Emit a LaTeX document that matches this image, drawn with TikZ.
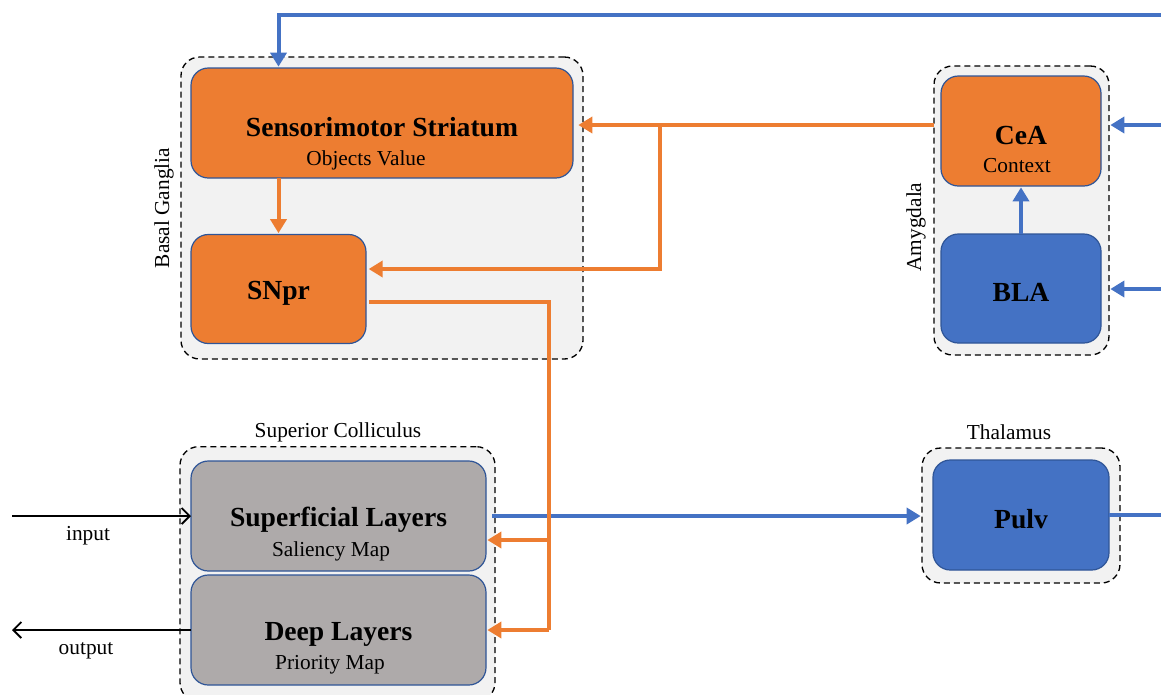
\documentclass[tikz,border=0pt]{standalone}
\usepackage{fontspec}
\setmainfont{Liberation Serif}
\usetikzlibrary{arrows.meta,calc}
\definecolor{orng}{HTML}{ED7D31}
\definecolor{blu}{HTML}{4472C4}
\definecolor{gry}{HTML}{AEAAAA}
\definecolor{edge}{HTML}{2F5597}
\definecolor{pale}{HTML}{F2F2F2}
% unit titles sit a little below the box centre
\newcommand{\unittitle}[1]{\raisebox{-3pt}[\height][\depth]{#1}}
\tikzset{
  region/.style={draw=black, fill=pale, dash pattern=on 4.5pt off 3pt, line width=1pt,
    rounded corners=14pt, inner sep=0pt, outer sep=0pt},
  unit/.style={draw=edge, line width=0.9pt, rounded corners=13pt, inner sep=0pt, outer sep=0pt,
    font=\fontsize{20.7}{24}\selectfont\bfseries},
  sub/.style={inner sep=0pt, font=\fontsize{16}{19}\selectfont},
  caption/.style={inner sep=0pt, font=\fontsize{16}{19}\selectfont},
  oline/.style={draw=orng, line width=3pt},
  bline/.style={draw=blu, line width=3pt},
  otip/.style={oline, -{Triangle[length=10.5pt,width=12pt]}},
  btip/.style={bline, -{Triangle[length=10.5pt,width=12pt]}},
  kline/.style={draw=black, line width=1.4pt, -{Straight Barb[length=6pt,width=12pt]}}
}
\begin{document}
\begin{tikzpicture}[x=0.75pt,y=-0.75pt]
\useasboundingbox (0,0) rectangle (1161,694);

% regions
\node[region, minimum width=301.5pt, minimum height=226.5pt] (bg) at (382,208) {};
\node[region, minimum width=131.25pt, minimum height=216.75pt] (amy) at (1021.5,210.5) {};
\node[region, minimum width=236.25pt, minimum height=191pt] (sc) at (337.5,574) {};
\node[region, minimum width=148.5pt, minimum height=101.25pt] (thal) at (1021,515.5) {};

\node[caption, rotate=90] (bglab) at (164,208) {Basal Ganglia};
\node[caption, rotate=90] (amylab) at (916,227) {Amygdala};
\node[caption] (sclab) at (338,432) {Superior Colliculus};
\node[caption] (thallab) at (1009,432) {Thalamus};

% units
\node[unit, fill=orng, minimum width=286.5pt, minimum height=82.5pt] (str) at (382,123) {\unittitle{Sensorimotor Striatum}};
\node[sub] (strsub) at (366,160) {Objects Value};
\node[unit, fill=orng, minimum width=131.25pt, minimum height=81.75pt] (snpr) at (278.5,289) {\unittitle{SNpr}};
\node[unit, fill=orng, minimum width=120pt, minimum height=82.5pt] (cea) at (1021,131) {\unittitle{CeA}};
\node[sub] (ceasub) at (1017,166) {Context};
\node[unit, fill=blu, minimum width=120pt, minimum height=81.75pt] (bla) at (1021,288.5) {\unittitle{BLA}};
\node[unit, fill=gry, minimum width=221.25pt, minimum height=82.5pt] (sup) at (338.5,516) {\unittitle{Superficial Layers}};
\node[sub] (supsub) at (331,551) {Saliency Map};
\node[unit, fill=gry, minimum width=221.25pt, minimum height=82.5pt] (deep) at (338.5,630) {\unittitle{Deep Layers}};
\node[sub] (deepsub) at (330,665) {Priority Map};
\node[unit, fill=blu, minimum width=132pt, minimum height=82.5pt] (pulv) at (1021,515) {\unittitle{Pulv}};

\node[caption] (inlab) at (88,536) {input};
\node[caption] (outlab) at (86,651) {output};

% free ends
\coordinate (topin) at (1161,15);
\coordinate (ceain) at (1161,125);
\coordinate (blain) at (1161,289);
\coordinate (pulvout) at (1161,515);
\coordinate (inpt) at (12,516);
\coordinate (outpt) at (12,630);
\coordinate (fork) at (660,125);
\coordinate (drop) at (549,630);
\coordinate (supin) at (549,540);

% blue pathways
\draw[btip, shorten >=1pt] (topin) -| (snpr.north |- str.north);
\draw[btip, shorten >=1pt] (bla.north) -- (cea.south);
\draw[btip, shorten >=1pt] (ceain) -- (amy.east |- ceain);
\draw[btip, shorten >=1pt] (blain) -- (amy.east |- blain);
\draw[btip, shorten >=1pt] ($(sup.east)+(6,0)$) -- (thal.west |- sup.east);
\draw[bline] (pulv.east) -- (pulvout);

% orange pathways
\draw[otip, shorten >=4pt] (amy.west |- fork) -- (str.east |- fork);
\draw[otip, shorten >=2pt] (fork) |- ($(snpr.east)+(0,-20)$);
\draw[otip, shorten >=1pt] (snpr.north |- str.south) -- (snpr.north);
\draw[oline] ($(snpr.east)+(3,13)$) -| (drop);
\draw[otip, shorten >=1pt] (drop) -- (deep.east);
\draw[otip, shorten >=1pt] (supin) -- (sup.east |- supin);

% input / output
\draw[kline] (inpt) -- (sup.west);
\draw[kline] (deep.west) -- (outpt);
\end{tikzpicture}
\end{document}
